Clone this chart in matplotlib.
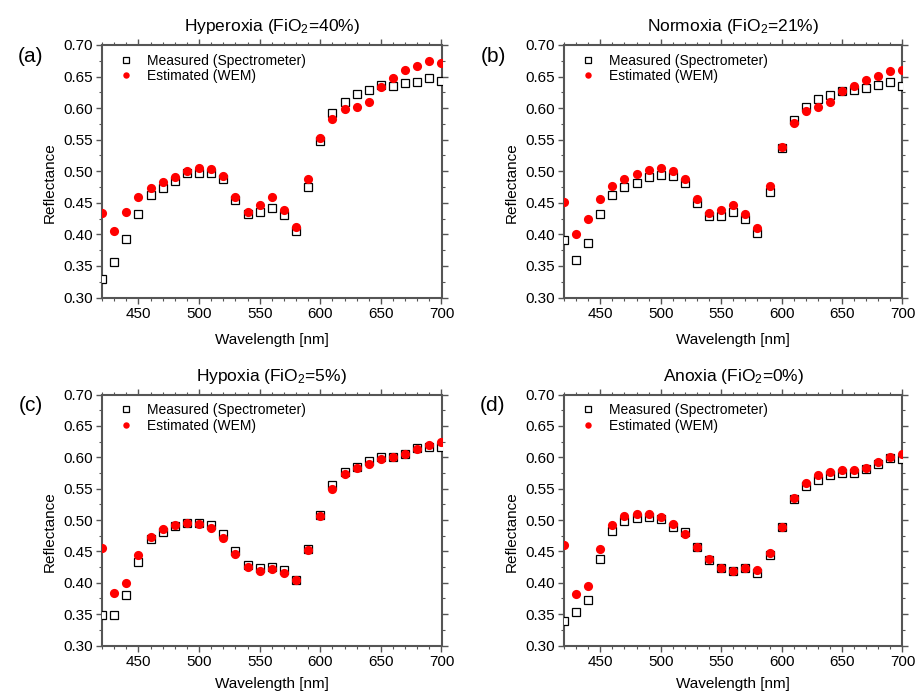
import numpy as np
import matplotlib
matplotlib.use('Agg')
from matplotlib import pyplot as plt
from matplotlib.ticker import MultipleLocator

plt.rcParams['font.family'] = ['Liberation Sans', 'DejaVu Sans']
plt.rcParams['mathtext.fontset'] = 'custom'
plt.rcParams['mathtext.rm'] = 'Liberation Sans'
plt.rcParams['mathtext.default'] = 'regular'

# wavelengths [nm]
wl = [420, 430, 440, 450, 460, 470, 480, 490, 500, 510, 520, 530, 540, 550, 560,
      570, 580, 590, 600, 610, 620, 630, 640, 650, 660, 670, 680, 690, 700]

# (a) hyperoxia
hyper_meas = [.330, .357, .392, .432, .462, .474, .484, .497, .498, .497, .487, .454, .432, .435, .4415,
              .430, .405, .475, .5485, .592, .610, .622, .6285, .636, .635, .640, .641, .648, .643]
hyper_est = [.434, .405, .436, .460, .474, .483, .491, .500, .5045, .503, .492, .459, .436, .447, .459,
             .439, .412, .4876, .553, .583, .598, .602, .609, .633, .648, .661, .667, .675, .672]
# (b) normoxia
normo_meas = [.391, .359, .386, .433, .462, .475, .481, .491, .4945, .493, .482, .449, .429, .429, .436,
              .424, .4015, .4665, .537, .581, .601, .614, .621, .6276, .628, .632, .637, .642, .6355]
normo_est = [.4506, .400, .424, .456, .4765, .4876, .4955, .502, .5045, .500, .488, .456, .4337, .438, .446,
             .432, .410, .476, .539, .576, .595, .602, .6096, .6266, .635, .6445, .651, .659, .660]
# (c) hypoxia
hypo_meas = [.348, .348, .381, .433, .469, .481, .490, .496, .496, .492, .478, .451, .428, .424, .425,
             .420, .404, .4536, .508, .556, .576, .585, .594, .601, .600, .605, .6147, .617, .617]
hypo_est = [.455, .383, .400, .444, .473, .485, .492, .495, .494, .488, .472, .4456, .425, .4195, .422,
            .416, .404, .452, .506, .5496, .573, .583, .590, .598, .601, .6056, .6136, .620, .624]
# (d) anoxia
anox_meas = [.3386, .354, .372, .438, .482, .498, .5034, .5045, .501, .489, .481, .4564, .437, .423, .418,
             .423, .415, .444, .489, .533, .554, .564, .572, .575, .575, .581, .5885, .599, .598]
anox_est = [.460, .382, .395, .454, .492, .5066, .510, .510, .505, .494, .478, .4575, .438, .423, .419,
            .423, .4205, .447, .489, .535, .5595, .571, .576, .579, .580, .583, .592, .600, .605]

titles = [r'Hyperoxia (FiO$_2$=40%)', r'Normoxia (FiO$_2$=21%)',
          r'Hypoxia (FiO$_2$=5%)', r'Anoxia (FiO$_2$=0%)']
letters = ['(a)', '(b)', '(c)', '(d)']
measured = [hyper_meas, normo_meas, hypo_meas, anox_meas]
estimated = [hyper_est, normo_est, hypo_est, anox_est]

W, H = 920, 693
fig = plt.figure(figsize=(9.2, 6.93), dpi=100)

# pixel boxes: left, right, top, bottom
boxes = [(102, 441.5, 45, 297.5), (564, 902.5, 45, 297.5),
         (102, 441.5, 394.5, 645.5), (564, 902.5, 394.5, 645.5)]

spine_col = '#555555'
for i in range(4):
    l, r, t, b = boxes[i]
    ax = fig.add_axes([l / W, 1 - b / H, (r - l) / W, (b - t) / H])
    ax.plot(wl, measured[i], ls='none', marker='s', ms=6.2, mfc='white', mec='black',
            mew=0.9, label='Measured (Spectrometer)', zorder=3)
    ax.plot(wl, estimated[i], ls='none', marker='o', ms=6.6, mfc='#ff0000', mec='#ff0000',
            mew=0, label='Estimated (WEM)', zorder=4)
    ax.set_xlim(420, 700)
    ax.set_ylim(0.30, 0.70)
    ax.xaxis.set_major_locator(MultipleLocator(50))
    ax.xaxis.set_minor_locator(MultipleLocator(10))
    ax.yaxis.set_major_locator(MultipleLocator(0.05))
    ax.yaxis.set_minor_locator(MultipleLocator(0.025))
    ax.yaxis.set_major_formatter(plt.FormatStrFormatter('%.2f'))
    ax.tick_params(which='both', direction='out', top=True, right=True,
                   color=spine_col, labelsize=11, pad=2)
    ax.tick_params(which='major', length=4.5, width=1.0)
    ax.tick_params(which='minor', length=2.5, width=0.8)
    for s in ax.spines.values():
        s.set_color(spine_col)
        s.set_linewidth(1.5)
    # bottom row label pulled up a little so it stays inside the picture
    ax.set_xlabel('Wavelength [nm]', fontsize=11, labelpad=9 if i < 2 else 6)
    ax.set_ylabel('Reflectance', fontsize=11)
    ax.yaxis.set_label_coords(-0.133, 0.455)
    ax.set_title(titles[i], fontsize=12.5, y=1.0 + 14 / (b - t), pad=0)
    ax.legend(loc='upper left', bbox_to_anchor=(0.05, 0.965), frameon=False, fontsize=10,
              handlelength=1.0, handletextpad=1.0, borderpad=0, borderaxespad=0,
              labelspacing=0.1, markerscale=0.7)
    fig.text((l - 71) / W, 1 - (t + 11) / H, letters[i], fontsize=15, ha='center', va='center')

plt.savefig('out.png', dpi=100)
